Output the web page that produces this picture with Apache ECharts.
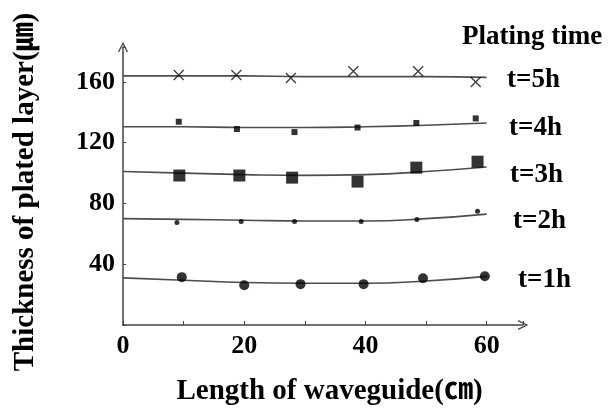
<!DOCTYPE html>
<html>
<head>
<meta charset="utf-8">
<script src="https://cdn.jsdelivr.net/npm/echarts@6/dist/echarts.min.js"></script>
<style>
  html, body { margin: 0; padding: 0; background: #fff; }
  #chart { width: 609px; height: 411px; }
</style>
</head>
<body>
<div id="chart"></div>
<script>
/* ----------  data  ---------- */
const seriesNames = ['t=5h', 't=4h', 't=3h', 't=2h', 't=1h'];
const fitX = [0, 10, 20, 30, 40, 50, 60];

const t5X = [9.2, 18.7, 27.7, 38, 48.7, 58.2];
const t5Y = [164.6, 164.6, 162.6, 167, 167, 160];
const t5Fit = [164, 164, 164, 163.5, 163.5, 163.5, 163];

const t4X = [9.2, 18.8, 28.3, 38.7, 48.4, 58.2];
const t4Y = [133.8, 129, 127, 130, 133, 136];
const t4Fit = [130.5, 130.5, 130, 130, 130.5, 131.5, 133];

const t3X = [9.3, 19.2, 27.9, 38.7, 48.4, 58.5];
const t3Y = [98.4, 98.4, 97, 94.4, 103.6, 107.5];
const t3Fit = [101, 100, 99, 98.5, 99, 101, 104];

const t2X = [8.9, 19.5, 28.3, 39.3, 48.5, 58.5];
const t2Y = [67.5, 68.2, 68.2, 68.2, 69.5, 74.8];
const t2Fit = [70, 69.5, 69, 68.5, 68.5, 70, 73];

const t1X = [9.7, 20, 29.3, 39.7, 49.5, 59.7];
const t1Y = [31.5, 26.2, 26.9, 26.9, 30.8, 32.1];
const t1Fit = [31, 29.5, 28, 27.5, 27.5, 29, 32];

const yTicks = [40, 80, 120, 160];
const xTicks = [0, 20, 40, 60];

/* ----------  helpers  ---------- */
const zip = (xs, ys) => xs.map((x, i) => [x, ys[i]]);
const FONT = '"Liberation Serif", "Noto Sans CJK SC", serif';
const CROSS = 'path://M0,0L10,10M10,0L0,10';
const ARROW = 'path://M0,10 L5,0 L10,10 L8.8,10.6 L5,2.8 L1.2,10.6 Z';

function fitLine(name, ys) {
  return {
    name: name + ' fit', type: 'line', smooth: true, showSymbol: false,
    data: zip(fitX, ys), z: 1,
    lineStyle: { color: '#4d4d4d', width: 1.6 },
  };
}
function points(name, xs, ys, symbol, size, cross) {
  return {
    name, type: 'scatter', symbol, symbolSize: size, data: zip(xs, ys), z: 3,
    itemStyle: cross
      ? { color: 'none', borderColor: '#111', borderWidth: 1.4 }
      : { color: '#000' },
  };
}
function label(text, left, top) {
  return { type: 'text', left, top, style: { text, font: 'bold 27px ' + FONT, fill: '#000' } };
}

/* ----------  chart  ---------- */
const chart = echarts.init(document.getElementById('chart'));
chart.setOption({
  backgroundColor: '#fff',
  animation: false,
  grid: { left: 123, right: 86, top: 47, bottom: 85 },
  xAxis: {
    type: 'value', min: 0, max: 66, interval: 10,
    name: 'Length of waveguide(㎝)', nameLocation: 'middle', nameGap: 52,
    nameTextStyle: { fontFamily: FONT, fontWeight: 'bold', fontSize: 29, color: '#000', padding: [0, 0, 0, 13] },
    axisLine: { lineStyle: { color: '#444', width: 1.5 }, symbol: ['none', ARROW], symbolSize: [10, 12] },
    axisTick: { inside: true, length: 4, lineStyle: { color: '#444' } },
    splitLine: { show: false },
    axisLabel: {
      margin: 8, fontFamily: FONT, fontWeight: 'bold', fontSize: 26, color: '#000',
      formatter: v => (xTicks.includes(v) ? String(v) : ''),
    },
  },
  yAxis: {
    type: 'value', min: 0, max: 183, interval: 40,
    name: 'Thickness of plated layer(㎛)', nameLocation: 'middle', nameGap: 83, nameRotate: 90,
    nameTextStyle: { fontFamily: FONT, fontWeight: 'bold', fontSize: 29, color: '#000', padding: [0, 12, 0, 0] },
    axisLine: { lineStyle: { color: '#444', width: 1.5 }, symbol: ['none', ARROW], symbolSize: [10, 12] },
    axisTick: { inside: true, length: 3, lineStyle: { color: '#444' } },
    splitLine: { show: false },
    axisLabel: {
      margin: 8, fontFamily: FONT, fontWeight: 'bold', fontSize: 26, color: '#000',
      formatter: v => (yTicks.includes(v) ? String(v) : ''),
    },
  },
  graphic: [
    label('Plating time', 462, 24),
    label(seriesNames[0], 507, 67),
    label(seriesNames[1], 509, 115),
    label(seriesNames[2], 510, 162),
    label(seriesNames[3], 513, 208),
    label(seriesNames[4], 518, 267),
  ],
  series: [
    fitLine(seriesNames[0], t5Fit),
    fitLine(seriesNames[1], t4Fit),
    fitLine(seriesNames[2], t3Fit),
    fitLine(seriesNames[3], t2Fit),
    fitLine(seriesNames[4], t1Fit),
    points(seriesNames[0], t5X, t5Y, CROSS, 10, true),
    points(seriesNames[1], t4X, t4Y, 'rect', 6),
    points(seriesNames[2], t3X, t3Y, 'rect', 12),
    points(seriesNames[3], t2X, t2Y, 'circle', 5),
    points(seriesNames[4], t1X, t1Y, 'circle', 10),
  ],
});
</script>
</body>
</html>
